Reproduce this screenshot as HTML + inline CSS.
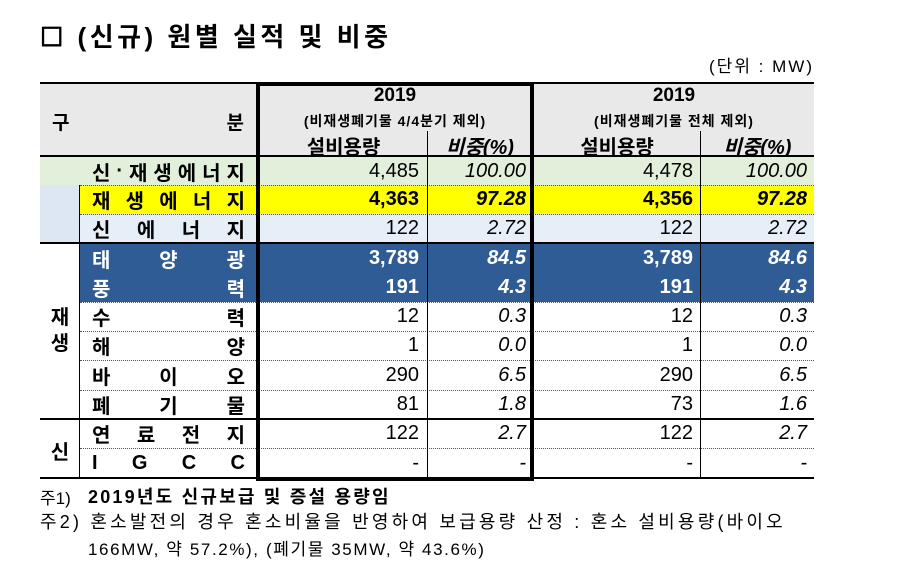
<!DOCTYPE html>
<html><head><meta charset="utf-8">
<style>
body{margin:0;width:910px;height:575px;background:#fff;position:relative;overflow:hidden;font-family:"Liberation Sans","Noto Sans CJK KR","NanumGothic",sans-serif;color:#000}
.a{position:absolute;box-sizing:border-box}
.lbl{display:flex;justify-content:space-between;font-weight:bold;font-size:19px;align-items:center}
.num{text-align:right;font-size:20px;display:flex;align-items:center;justify-content:flex-end}
.it{font-style:italic}
</style></head><body>
<div class="a" style="left:40px;top:17px;font-size:26px;font-weight:bold;letter-spacing:3.5px">☐ (신규) 원별 실적 및 비중</div>
<div class="a" style="left:690px;top:52px;font-size:17px;width:124px;text-align:right;letter-spacing:2px">(단위 : MW)</div>
<div class="a" style="left:40px;top:82px;width:774px;height:75px;background:#e9e9e9;border-top:2px solid #000;border-bottom:2px solid #000"></div>
<div class="a" style="left:52px;top:108px;width:192px;font-weight:bold;font-size:19px;display:flex;justify-content:space-between"><span>구</span><span>분</span></div>
<div class="a" style="left:260px;top:85px;width:270px;text-align:center;font-weight:bold;font-size:19px">2019</div>
<div class="a" style="left:260px;top:111px;width:270px;text-align:center;font-weight:bold;font-size:14px;letter-spacing:1px">(비재생폐기물 4/4분기 제외)</div>
<div class="a" style="left:534px;top:85px;width:280px;text-align:center;font-weight:bold;font-size:19px">2019</div>
<div class="a" style="left:534px;top:111px;width:280px;text-align:center;font-weight:bold;font-size:14px;letter-spacing:1px">(비재생폐기물 전체 제외)</div>
<div class="a" style="left:260px;top:131px;width:167px;text-align:center;font-weight:bold;font-size:20px">설비용량</div>
<div class="a" style="left:427px;top:131px;width:105px;text-align:center;font-weight:bold;font-style:italic;font-size:20px;border-left:1px solid #000;height:26px">비중(%)</div>
<div class="a" style="left:534px;top:131px;width:166px;text-align:center;font-weight:bold;font-size:20px">설비용량</div>
<div class="a" style="left:700px;top:131px;width:114px;text-align:center;font-weight:bold;font-style:italic;font-size:20px;border-left:1px solid #000;height:26px">비중(%)</div>
<div id="rows"></div>
<div class="a" style="left:40px;top:185px;width:40px;height:58px;background:#dde7f4"></div>
<div class="a" style="left:40px;top:305px;width:40px;font-weight:bold;font-size:20px;text-align:center;line-height:26px">재<br>생</div>
<div class="a" style="left:40px;top:436px;width:40px;font-weight:bold;font-size:20px;text-align:center">신</div>
<div class="a" style="left:79px;top:185px;width:1px;height:293px;background:#000"></div>
<div class="a" style="left:40px;top:242px;width:774px;height:2px;background:#000"></div>
<div class="a" style="left:40px;top:418px;width:774px;height:2px;background:#000"></div>
<div class="a" style="left:40px;top:477px;width:774px;height:2px;background:#000"></div>
<div class="a" style="left:427px;top:157px;width:1px;height:321px;background:#000"></div>
<div class="a" style="left:700px;top:157px;width:1px;height:321px;background:#000"></div>
<div class="a" style="left:256px;top:82px;width:278px;height:399px;border:4px solid #000"></div>
<div class="a" style="left:40px;top:484px;font-size:17px">주1)</div>
<div class="a" style="left:88px;top:483px;font-size:18px;font-weight:bold;letter-spacing:2.2px;white-space:nowrap">2019년도 신규보급 및 증설 용량임</div>
<div class="a" style="left:40px;top:508px;font-size:18px;letter-spacing:3.2px;white-space:nowrap">주2) 혼소발전의 경우 혼소비율을 반영하여 보급용량 산정 : 혼소 설비용량(바이오</div>
<div class="a" style="left:88px;top:535px;font-size:17px;letter-spacing:1.6px;white-space:nowrap">166MW, 약 57.2%), (폐기물 35MW, 약 43.6%)</div>
<script>
const labels=["신·재생에너지","재생에너지","신에너지","태양광","풍력","수력","해양","바이오","폐기물","연료전지","IGCC"];
const capA=["4,485","4,363","122","3,789","191","12","1","290","81","122","-"];
const shareA=["100.00","97.28","2.72","84.5","4.3","0.3","0.0","6.5","1.8","2.7","-"];
const capB=["4,478","4,356","122","3,789","191","12","1","290","73","122","-"];
const shareB=["100.00","97.28","2.72","84.6","4.3","0.3","0.0","6.5","1.6","2.7","-"];
const tops=[157,185,214,243,273,302,331,360,390,419,448,478];
const root=document.getElementById('rows');
labels.forEach((lab,i)=>{
  const y=tops[i],h=tops[i+1]-y;
  let bg='#fff',fg='#000',bold=false,x0=80;
  if(i===0){bg='#e2efda';x0=40}
  if(i===1){bg='#ffff00';bold=true}
  if(i===2){bg='#e6eef8'}
  if(i===3||i===4){bg='#2f5c94';fg='#fff';bold=true}
  const r=document.createElement('div');r.className='a';
  
  
  r.style.cssText=`left:${x0}px;top:${y}px;width:${814-x0}px;height:${h}px;background:${bg};color:${fg};`+(i>0&&i!==3&&i!==9?'border-top:1px dotted #555;':'');
  root.appendChild(r);
  const l=document.createElement('div');l.className='a lbl';
  
  
  const lx=92;
  l.style.cssText=`left:${lx}px;top:${y}px;width:${245-lx}px;height:${h}px;color:${fg};font-size:20px`;
  [...lab].forEach(c=>{const s=document.createElement('span');s.textContent=c;l.appendChild(s)});
  root.appendChild(l);
  const cols=[[capA,260,419,false],[shareA,427,526,true],[capB,534,693,false],[shareB,700,807,true]];
  cols.forEach(([arr,x1,x2,it])=>{
    const c=document.createElement('div');c.className='a num'+(it?' it':'');
    
    
    c.style.cssText=`left:${x1}px;top:${y}px;width:${x2-x1}px;height:${h}px;color:${fg};font-weight:${bold?'bold':'normal'}`;
    c.textContent=arr[i];root.appendChild(c);
  });
});
</script>
</body></html>
